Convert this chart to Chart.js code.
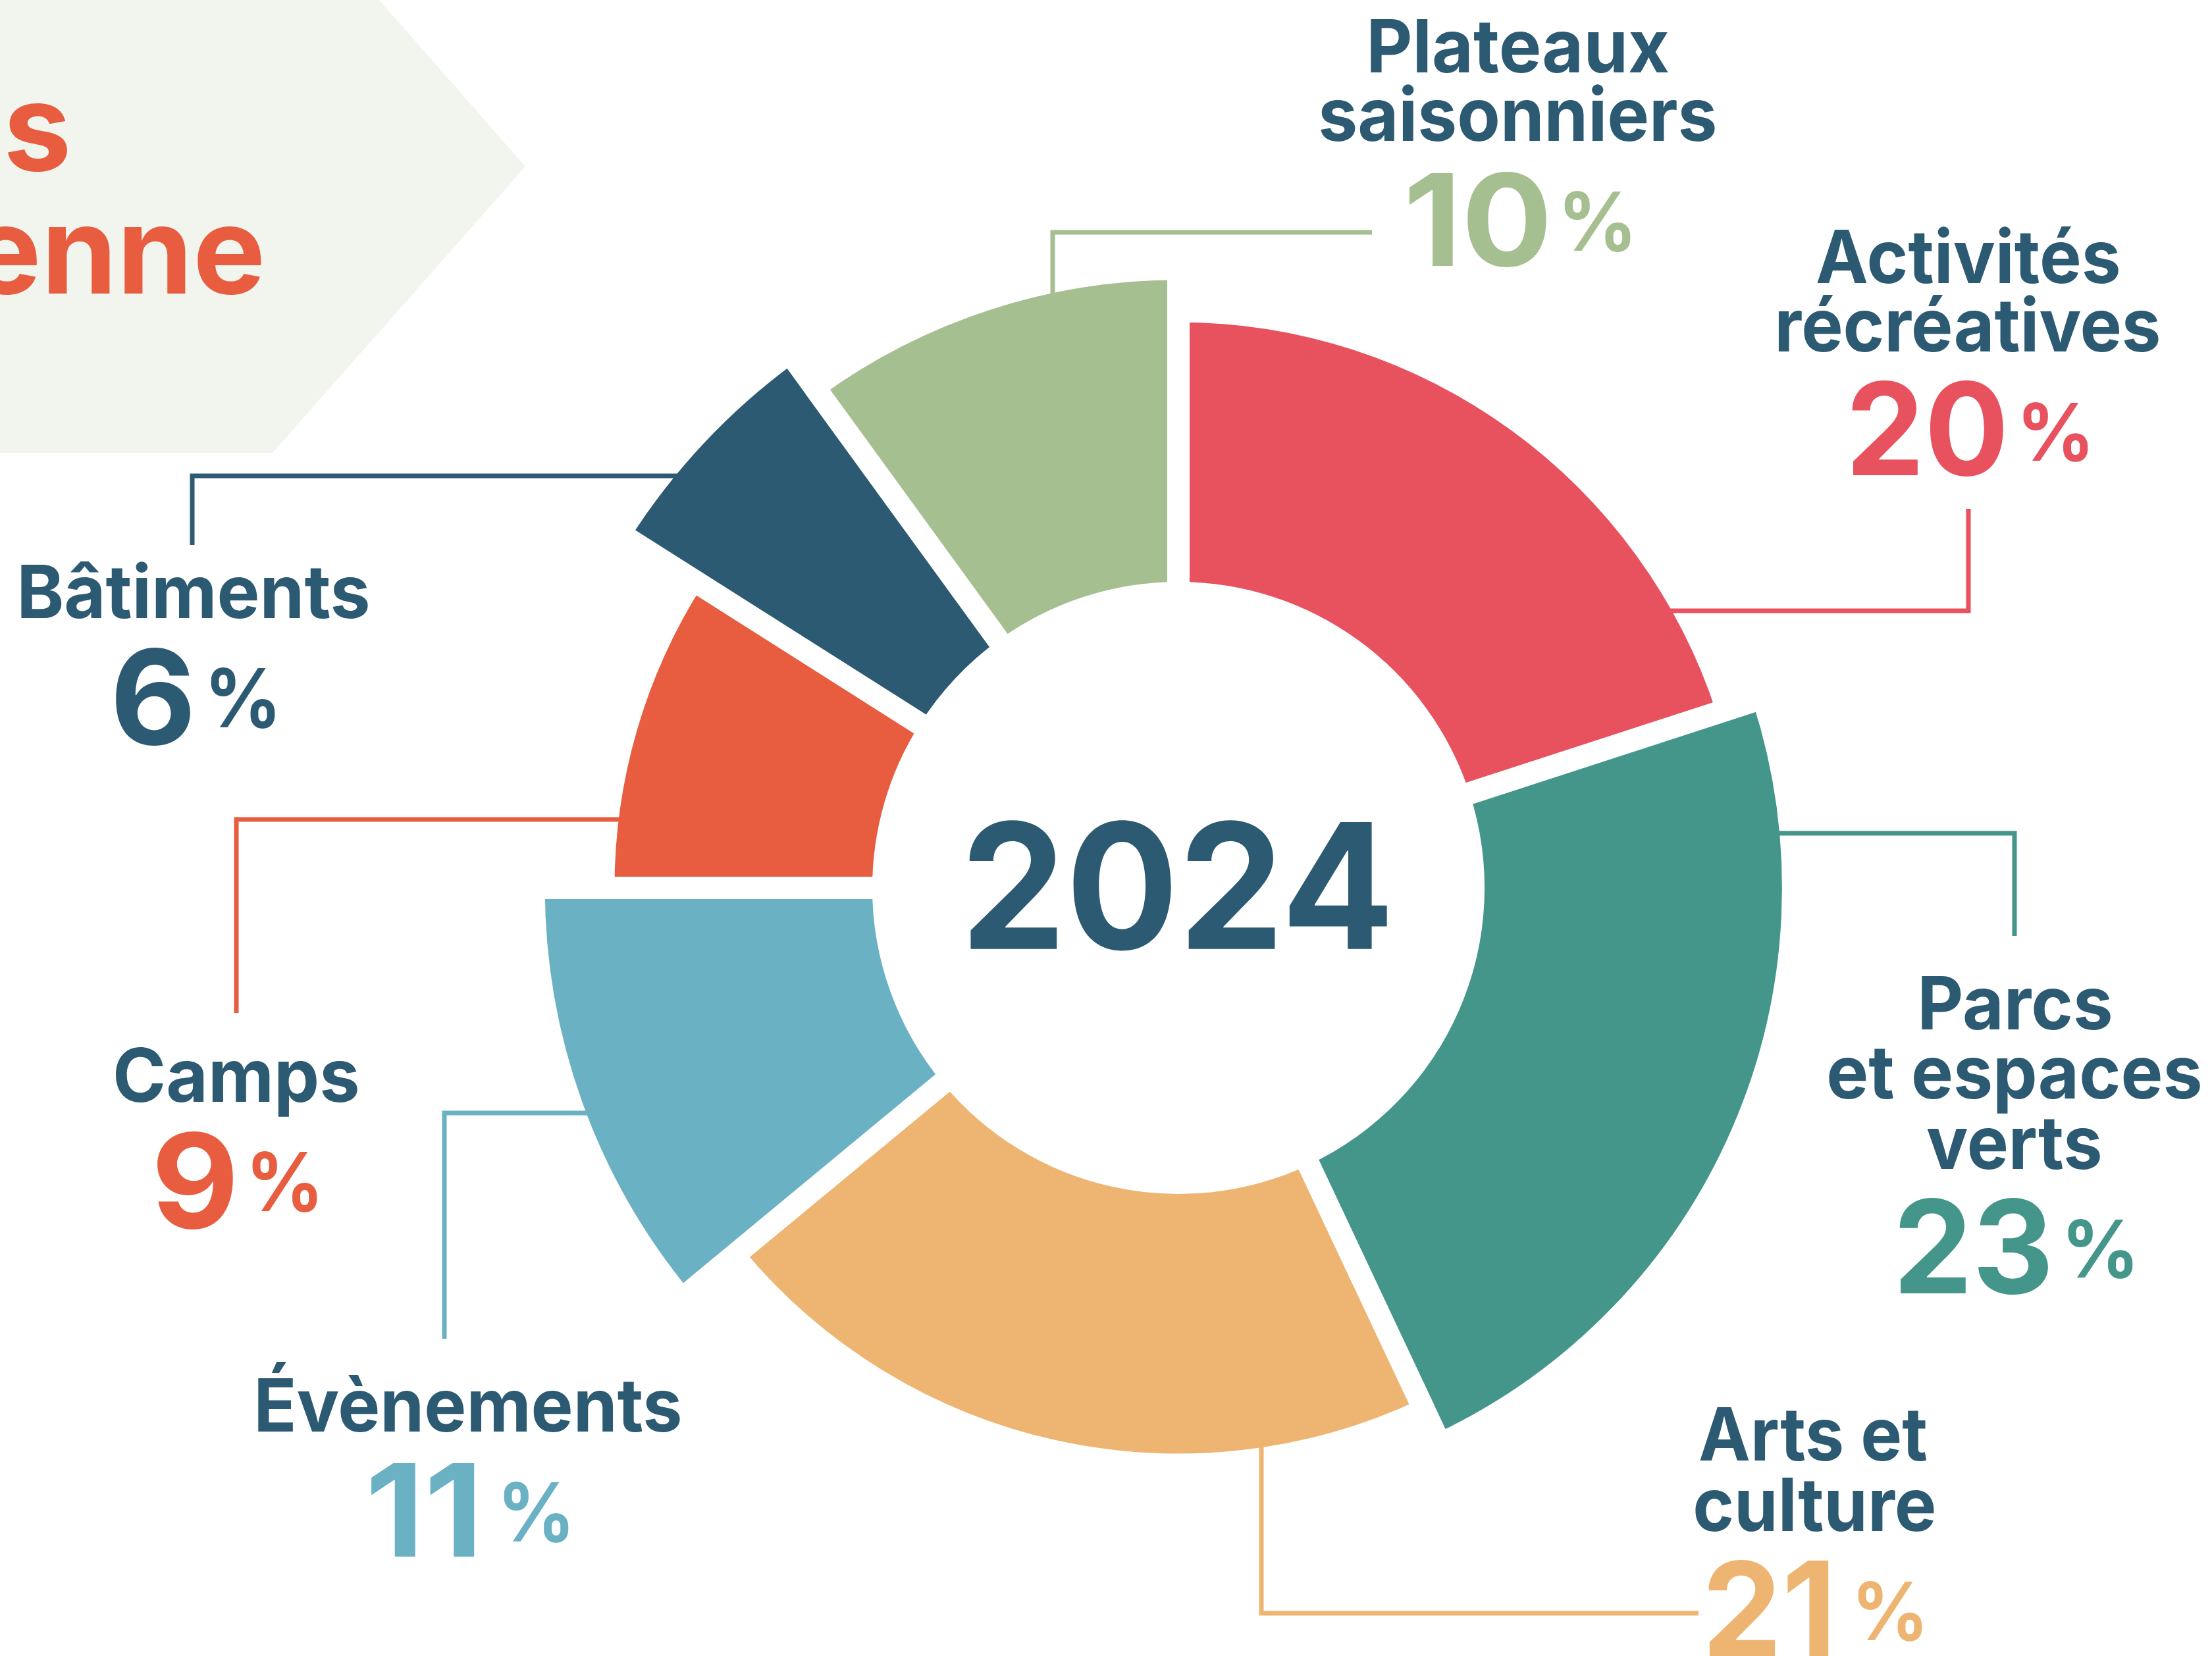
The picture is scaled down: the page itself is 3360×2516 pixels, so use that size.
<!DOCTYPE html>
<html><head><meta charset="utf-8">
<script src="https://cdn.jsdelivr.net/npm/chart.js@4.4.1/dist/chart.umd.min.js"></script>
<style>html,body{margin:0;padding:0;background:#fff;overflow:hidden}canvas{display:block}</style>
</head><body>
<canvas id="c" width="3360" height="2516"></canvas>
<script>
// ---------- DATA ----------
const categories = ["Activités récréatives", "Parcs et espaces verts", "Arts et culture", "Évènements", "Camps", "Bâtiments", "Plateaux saisonniers"];
const values = [20, 23, 21, 11, 9, 6, 10];
const nameLines = [["Activités", "récréatives"], ["Parcs", "et espaces", "verts"], ["Arts et", "culture"], ["Évènements"], ["Camps"], ["Bâtiments"], ["Plateaux", "saisonniers"]];
const centerLabel = "2024";
const titleFragments = ["es", "enne"];

// ---------- STYLE / LAYOUT ----------
const colors = ["#E8525F", "#44958A", "#EEB572", "#6BB1C4", "#E85D3F", "#2C5A72", "#A5BF91"];
const textDark = "#2C5A72";
const outerRadiusRatio = [0.870, 0.928, 0.870, 0.974, 0.867, 1.0, 0.935];
const GAP = 34;
// name line boxes: [x0, x1, baseline]
const nameBoxes = [
  [[2760, 3218, 430], [2702, 3279, 534]],
  [[2919, 3206, 1564], [2778, 3342, 1669], [2927, 3190, 1776]],
  [[2582, 2927, 2219], [2575, 2938, 2326]],
  [[392, 1033, 2175]],
  [[176, 543, 1674]],
  [[32, 559, 939]],
  [[2082, 2534, 110], [2006, 2605, 214]]
];
// number boxes: [x0, x1, top, bottom]
const numBoxes = [[2813, 3043, 579, 724], [2885, 3111, 1820, 1967], [2595, 2778, 2370, 2516], [564, 721, 2223, 2365], [239, 354, 1718, 1868], [176, 289, 984, 1133], [2141, 2349, 262, 406]];
const pctBoxes = [[3073, 3172, 611, 702], [3141, 3240, 1852, 1943], [2822, 2920, 2402, 2494], [765, 864, 2251, 2344], [383, 482, 1749, 1842], [320, 418, 1014, 1107], [2376, 2477, 290, 383]];
// leaders: mode 'h' = horizontal from arc at y, elbow at x, then vertical to end; 'v' = vertical from arc at x, elbow at y, then horizontal to end
const leaders = [
  {i: 0, mode: 'h', x: 2990, y: 928, end: 773},
  {i: 1, mode: 'h', x: 3060, y: 1266, end: 1422},
  {i: 2, mode: 'v', x: 1916, y: 2451, end: 2580},
  {i: 3, mode: 'h', x: 675, y: 1691, end: 2034},
  {i: 4, mode: 'h', x: 359, y: 1245, end: 1539},
  {i: 5, mode: 'h', x: 292, y: 723, end: 828},
  {i: 6, mode: 'v', x: 1599, y: 353, end: 2084}
];
const FONT = "Inter";

function fitBox(ctx, text, x0, x1, top, bottom, font, color) {
  ctx.save();
  ctx.font = font; ctx.fillStyle = color; ctx.textAlign = 'left'; ctx.textBaseline = 'alphabetic';
  const m = ctx.measureText(text);
  const w = m.actualBoundingBoxLeft + m.actualBoundingBoxRight;
  const h = m.actualBoundingBoxAscent + m.actualBoundingBoxDescent;
  ctx.translate(x0, top);
  ctx.scale((x1 - x0) / w, (bottom - top) / h);
  ctx.fillText(text, m.actualBoundingBoxLeft, m.actualBoundingBoxAscent);
  ctx.restore();
}
function fitWidth(ctx, text, x0, x1, baseline, size, color) {
  ctx.save();
  ctx.font = `700 ${size}px ${FONT}`; ctx.fillStyle = color; ctx.textAlign = 'left'; ctx.textBaseline = 'alphabetic';
  const m = ctx.measureText(text);
  const w = m.actualBoundingBoxLeft + m.actualBoundingBoxRight;
  ctx.translate(x0, baseline);
  ctx.scale((x1 - x0) / w, 1);
  ctx.fillText(text, m.actualBoundingBoxLeft, 0);
  ctx.restore();
}

const bgPlugin = {
  id: 'bgShape',
  beforeDraw(chart) {
    const ctx = chart.ctx;
    ctx.save();
    ctx.fillStyle = '#F2F5EE';
    ctx.beginPath();
    ctx.moveTo(0, 0); ctx.lineTo(576, 0); ctx.lineTo(798, 253); ctx.lineTo(414, 688); ctx.lineTo(0, 688);
    ctx.closePath(); ctx.fill();
    ctx.font = `700 185px ${FONT}`; ctx.fillStyle = '#E85D3F'; ctx.textAlign = 'left'; ctx.textBaseline = 'alphabetic';
    const rights = [102, 397], bases = [259, 446];
    titleFragments.forEach((t, k) => {
      const m = ctx.measureText(t);
      ctx.fillText(t, rights[k] - m.actualBoundingBoxRight, bases[k]);
    });
    ctx.restore();
  }
};

const radiusPlugin = {
  id: 'varRadius',
  afterDatasetUpdate(chart, args) {
    const meta = args.meta, ctrl = meta.controller, half = GAP / 2;
    meta.data.forEach((arc, i) => {
      arc.outerRadius = (ctrl.outerRadius - half) * outerRadiusRatio[i] + half;
    });
  }
};

const leaderPlugin = {
  id: 'leaders',
  afterDatasetsDraw(chart) {
    const ctx = chart.ctx, meta = chart.getDatasetMeta(0);
    ctx.save();
    ctx.lineWidth = 7; ctx.lineJoin = 'miter'; ctx.lineCap = 'butt';
    leaders.forEach(L => {
      const arc = meta.data[L.i];
      const R = arc.outerRadius - GAP / 2 - 5;
      const cx = arc.x, cy = arc.y;
      let pts;
      if (L.mode === 'h') {
        const dy = L.y - cy;
        const dx = Math.sqrt(Math.max(R * R - dy * dy, 0)) * Math.sign(L.x - cx);
        pts = [[cx + dx, L.y], [L.x, L.y], [L.x, L.end]];
      } else {
        const dx = L.x - cx;
        const dy = Math.sqrt(Math.max(R * R - dx * dx, 0)) * Math.sign(L.y - cy);
        pts = [[L.x, cy + dy], [L.x, L.y], [L.end, L.y]];
      }
      ctx.strokeStyle = colors[L.i];
      ctx.beginPath();
      ctx.moveTo(pts[0][0], pts[0][1]); ctx.lineTo(pts[1][0], pts[1][1]); ctx.lineTo(pts[2][0], pts[2][1]);
      ctx.stroke();
    });
    ctx.restore();
  }
};

const textPlugin = {
  id: 'texts',
  afterDraw(chart) {
    const ctx = chart.ctx;
    categories.forEach((c, i) => {
      nameLines[i].forEach((line, k) => {
        const b = nameBoxes[i][k];
        fitWidth(ctx, line, b[0], b[1], b[2], 112, textDark);
      });
      const nb = numBoxes[i];
      fitBox(ctx, String(values[i]), nb[0], nb[1], nb[2], nb[3], `700 200px ${FONT}`, colors[i]);
      const pb = pctBoxes[i];
      fitBox(ctx, '%', pb[0], pb[1], pb[2], pb[3], `700 130px ${FONT}`, colors[i]);
    });
    fitBox(ctx, centerLabel, 1471, 2109, 1243, 1446, `700 280px ${FONT}`, textDark);
  }
};

function build() {
  new Chart(document.getElementById('c'), {
    type: 'doughnut',
    data: {
      labels: categories,
      datasets: [{data: values, backgroundColor: colors, borderColor: '#ffffff', borderWidth: GAP, hoverOffset: 0}]
    },
    options: {
      responsive: false, devicePixelRatio: 1, animation: false, events: [],
      radius: 1005, cutout: '44.58%', rotation: 0,
      layout: {padding: {left: 220, right: 0, top: 182, bottom: 0}},
      plugins: {legend: {display: false}, tooltip: {enabled: false}}
    },
    plugins: [bgPlugin, radiusPlugin, leaderPlugin, textPlugin]
  });
}
if (document.fonts && document.fonts.load) {
  Promise.all([document.fonts.load(`700 100px ${FONT}`)]).then(build, build);
} else build();
</script>
</body></html>
